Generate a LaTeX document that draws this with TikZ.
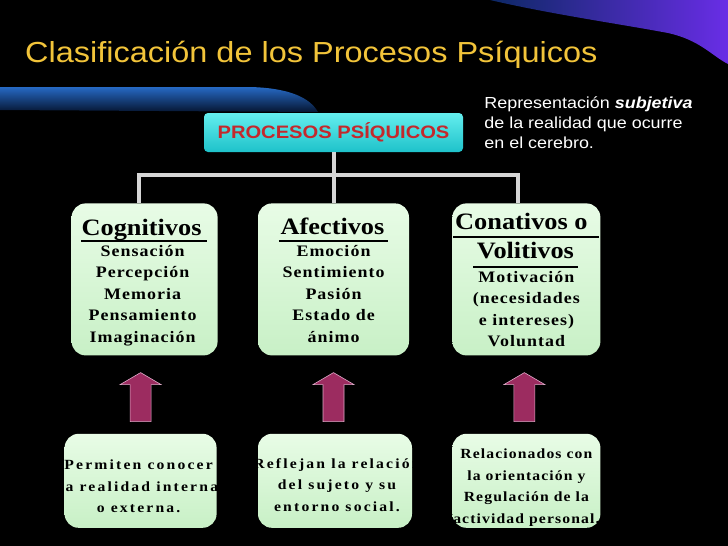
\documentclass[tikz,border=0pt]{standalone}
\usepackage{fontspec}
\usepackage{tikz}
\usetikzlibrary{positioning}
\newfontfamily\titlefont[FakeStretch=1.12]{Liberation Sans}
\newfontfamily\headfont[FakeStretch=1.12]{Liberation Serif}
\newfontfamily\itemfont[FakeStretch=1.12,LetterSpace=6.5]{Liberation Serif}
\newfontfamily\notefont[FakeStretch=1.12,LetterSpace=15.5]{Liberation Serif}
\newfontfamily\notefonttight[FakeStretch=1.12,LetterSpace=8]{Liberation Serif}
\definecolor{titlegold}{RGB}{242,196,58}
\definecolor{cyantop}{RGB}{100,238,238}
\definecolor{cyanbot}{RGB}{30,194,202}
\definecolor{procred}{RGB}{196,40,44}
\definecolor{greentop}{RGB}{232,252,230}
\definecolor{greenbot}{RGB}{200,240,198}
\definecolor{arrowpurple}{RGB}{156,44,96}
\definecolor{arrowedge}{RGB}{222,170,200}
\definecolor{linegray}{RGB}{214,214,214}
\definecolor{swooshdark}{RGB}{12,40,100}
\definecolor{swooshblue}{RGB}{40,125,225}
\definecolor{swooshviolet}{RGB}{105,45,230}
\definecolor{bandlight}{RGB}{38,105,196}
\definecolor{banddark}{RGB}{6,22,50}

\begin{document}
\begin{tikzpicture}[x=1pt,y=-1pt,
            titlenode/.style={anchor=base west, text=titlegold, inner sep=0pt, font=\titlefont\fontsize{29}{34}\selectfont},
            topnode/.style={rectangle, rounded corners=4pt, top color=cyantop, bottom color=cyanbot, minimum width=259pt, minimum height=39pt, text=procred, font=\titlefont\bfseries\fontsize{18}{22}\selectfont},
            sidenote/.style={align=left, text=white, inner sep=0pt, font=\titlefont\fontsize{16}{20}\selectfont},
            greenbox/.style={rectangle, rounded corners=14pt, top color=greentop, bottom color=greenbot, inner sep=0pt},
            headtext/.style={anchor=base, inner sep=0pt, font=\headfont\bfseries\fontsize{23.5}{27}\selectfont},
            itemtext/.style={anchor=north, align=center, inner sep=0pt, font=\itemfont\bfseries\fontsize{16}{21.5}\selectfont},
            notetext/.style={anchor=north, align=center, inner sep=0pt, font=\notefont\bfseries\fontsize{14}{21.5}\selectfont},
            tree/.style={draw=linegray, line width=4pt},
            underline/.style={draw=black, line width=1.6pt},
            uparrow/.style={fill=arrowpurple, draw=arrowedge, line width=0.6pt, line join=miter},
        ]
        \useasboundingbox (0,0) rectangle (728,546);
        \fill[black] (0,0) rectangle (728,546);

        % template swooshes
        \shade[left color=swooshdark, middle color=swooshblue, right color=swooshviolet] (490,0) -- (728,0) -- (728,64) .. controls (712,56) and (700,40) .. (668,33) .. controls (620,24) and (550,14) .. (490,0) -- cycle;
        \shade[top color=bandlight, bottom color=banddark] (0,87) -- (250,87) .. controls (290,88) and (310,98) .. (318,112) -- (0,110) -- cycle;

        \node[titlenode] (title) at (25,62) {Clasificación de los Procesos Psíquicos};

        \node[topnode] (procesos) at (333.5,132.5) {PROCESOS PSÍQUICOS};
        \node[sidenote] (nota) [right=21pt of procesos, yshift=10pt] {Representación \textbf{\textit{subjetiva}}\\de la realidad que ocurre\\en el cerebro.};

        \coordinate[below=23pt of procesos] (hub);

        \node[greenbox, minimum width=151pt, minimum height=152pt] (afectivos) [below=51pt of procesos] {};
        \node[greenbox, minimum width=146pt, minimum height=152pt] (cognitivos) [left=40pt of afectivos] {};
        \node[greenbox, minimum width=148pt, minimum height=152pt] (conativos) [right=43pt of afectivos] {};

        \draw[tree] (procesos) -- (afectivos);
        \draw[tree] ([xshift=-6pt]cognitivos.north) |- (hub) -| ([xshift=-8pt]conativos.north);

        % cognitivos
        \node[headtext] (coghead) at ([xshift=-3pt,yshift=-32pt]cognitivos.north) {Cognitivos};
        \draw[underline] ([xshift=10pt,yshift=-38pt]cognitivos.north west) -- ([xshift=-11pt,yshift=-38pt]cognitivos.north east);
        \node[itemtext] (cogitems) at ([xshift=-2pt,yshift=-41.5pt]cognitivos.north) {Sensación\\Percepción\\Memoria\\Pensamiento\\Imaginación};

        % afectivos
        \node[headtext] (afehead) at ([xshift=-1pt,yshift=-31pt]afectivos.north) {Afectivos};
        \draw[underline] ([xshift=21pt,yshift=-38pt]afectivos.north west) -- ([xshift=-21pt,yshift=-38pt]afectivos.north east);
        \node[itemtext] (afeitems) at ([yshift=-41.5pt]afectivos.north) {Emoción\\Sentimiento\\Pasión\\Estado de\\ánimo};

        % conativos
        \node[headtext] (conhead) at ([xshift=-5pt,yshift=-26pt]conativos.north) {Conativos o};
        \draw[underline] ([xshift=1pt,yshift=-34pt]conativos.north west) -- ([xshift=-2pt,yshift=-34pt]conativos.north east);
        \node[headtext] (conhead2) at ([xshift=-1pt,yshift=-55pt]conativos.north) {Volitivos};
        \draw[underline] ([xshift=21pt,yshift=-64pt]conativos.north west) -- ([xshift=-23pt,yshift=-64pt]conativos.north east);
        \node[itemtext] (conitems) at ([yshift=-67.5pt]conativos.north) {Motivación\\(necesidades\\e intereses)\\Voluntad};

        \node[greenbox, minimum width=152pt, minimum height=94pt] (permiten) [below=78pt of cognitivos, xshift=-4pt] {};
        \node[greenbox, minimum width=154pt, minimum height=94pt] (reflejan) [below=78pt of afectivos, xshift=1.5pt] {};
        \node[greenbox, minimum width=148pt, minimum height=94pt] (relacionados) [below=78pt of conativos] {};

        % flechas
        \coordinate[below=66pt of cognitivos, xshift=-4pt] (base1);
        \coordinate[below=66pt of afectivos] (base2);
        \coordinate[below=66pt of conativos, xshift=-2pt] (base3);
        \foreach \b in {base1,base2,base3}
            \draw[uparrow] (\b) ++(-10.5,0) -- ++(0,-37) -- ++(-10,0) -- ++(20.5,-12) -- ++(20.5,12) -- ++(-10,0) -- ++(0,37) -- cycle;

        \node[notetext] (permtext) at ([xshift=-2pt,yshift=-26pt]permiten.north) {Permiten conocer\\la realidad interna\\o externa.};
        \node[notetext] (refltext) at ([xshift=2pt,yshift=-24.5pt]reflejan.north) {Reflejan la relación\\del sujeto y su\\entorno social.};
        \node[notetext, font=\notefonttight\bfseries\fontsize{14}{21.5}\selectfont] (relatext) at ([yshift=-15pt]relacionados.north) {Relacionados con\\la orientación y\\Regulación de la\\actividad personal.};

    \end{tikzpicture}
\end{document}
